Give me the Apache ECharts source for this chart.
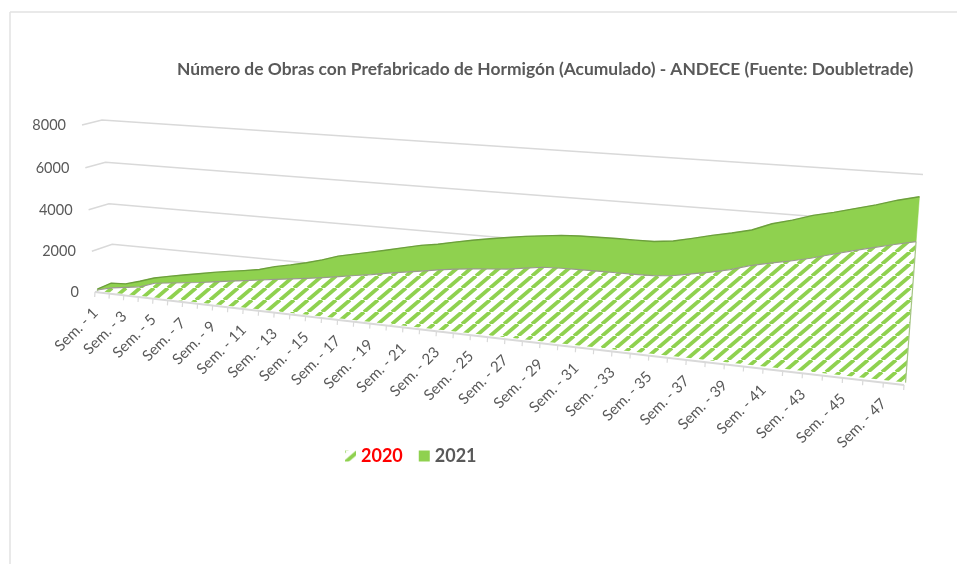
<!DOCTYPE html>
<html><head><meta charset="utf-8">
<style>html,body{margin:0;padding:0;background:#fff}#c{width:957px;height:564px}</style>
<script src="https://cdn.jsdelivr.net/npm/echarts@6/dist/echarts.min.js"></script>
</head><body><div id="c"></div>
<script>
var weeks = [];
for (var k = 1; k <= 48; k++) weeks.push('Sem. - ' + k);
var values2020 = [50,240,343,446,700,790,882,973,1081,1193,1296,1406,1512,1612,1716,1827,1952,2081,2203,2348,2469,2592,2717,2834,2917,2989,3061,3176,3294,3325,3340,3350,3360,3370,3390,3462,3616,3770,3954,4197,4370,4536,4723,4949,5173,5375,5570,5757];
var values2021 = [40,228,167,275,255,321,375,421,452,465,476,494,597,655,726,823,943,980,1021,1045,1102,1152,1152,1201,1268,1333,1384,1392,1365,1424,1452,1458,1464,1457,1453,1469,1496,1537,1523,1472,1623,1670,1741,1701,1695,1704,1759,1772];
var yTicks = [0,2000,4000,6000,8000];
var titleText = 'Número de Obras con Prefabricado de Hormigón (Acumulado) - ANDECE (Fuente: Doubletrade)';

var GREEN = '#8fd14f', TEXT = '#595959', GRID = '#d9d9d9', FONT = 'Lato, "Open Sans", sans-serif';

// hatch fill
function hatch() {
  var w = 14, h = 12, c = document.createElement('canvas');
  c.width = w; c.height = h;
  var g = c.getContext('2d');
  g.fillStyle = '#fff'; g.fillRect(0, 0, w, h);
  g.strokeStyle = GREEN; g.lineWidth = 3.8;
  [[-w, h, 0, 0], [0, h, w, 0], [w, h, 2 * w, 0]].forEach(function (s) {
    g.beginPath(); g.moveTo(s[0], s[1]); g.lineTo(s[2], s[3]); g.stroke();
  });
  return { image: c, repeat: 'repeat' };
}
var hatchFill = hatch();

// view projection of the 3D box: unit square (u along weeks, v up the value axis) -> screen quad
function quadMap(p00, p10, p11, p01) {
  var dx1 = p10[0] - p11[0], dx2 = p01[0] - p11[0], sx = p00[0] - p10[0] + p11[0] - p01[0];
  var dy1 = p10[1] - p11[1], dy2 = p01[1] - p11[1], sy = p00[1] - p10[1] + p11[1] - p01[1];
  var det = dx1 * dy2 - dx2 * dy1;
  var g = (sx * dy2 - dx2 * sy) / det, h = (dx1 * sy - sx * dy1) / det;
  var a = p10[0] - p00[0] + g * p10[0], b = p01[0] - p00[0] + h * p01[0], c = p00[0];
  var d = p10[1] - p00[1] + g * p10[1], e = p01[1] - p00[1] + h * p01[1], f = p00[1];
  return function (u, v) {
    var w = g * u + h * v + 1;
    return [(a * u + b * v + c) / w, (d * u + e * v + f) / w];
  };
}
var frontWall = quadMap([95, 292], [904, 385], [920, 186], [82, 125]);
var backWall = quadMap([115.5, 284], [898, 366], [923, 174.5], [102, 120]);
var seriesBack = quadMap([115.5, 284], [917, 365], [923, 174.5], [102, 120]);
var SERIES_DEPTH = 0.12;
function view(u, v, d) {
  var f = frontWall(u, v), b = backWall(u, v);
  return [f[0] + (b[0] - f[0]) * d, f[1] + (b[1] - f[1]) * d];
}
// series plane: front wall nudged towards the inner corners
function seriesView(u, v) {
  var f = frontWall(u, v), b = seriesBack(u, v);
  return [f[0] + (b[0] - f[0]) * SERIES_DEPTH, f[1] + (b[1] - f[1]) * SERIES_DEPTH];
}
// from the hidden cartesian scales to the box, then to the screen
function project(api, cs, cat, val, d) {
  var p = api.coord([cat, val]);
  return view((p[0] - cs.x) / cs.width, (cs.y + cs.height - p[1]) / cs.height, d);
}
function projectSeries(api, cs, cat, val) {
  var p = api.coord([cat, val]);
  return seriesView((p[0] - cs.x) / cs.width, (cs.y + cs.height - p[1]) / cs.height);
}

function renderWalls(params, api) {
  var cs = params.coordSys, val = api.value(0), last = weeks.length - 1;
  return {
    type: 'polyline',
    shape: { points: [project(api, cs, 0, val, 0), project(api, cs, 0, val, 1), project(api, cs, last, val, 1)] },
    style: { stroke: GRID, lineWidth: 1.5, fill: null }
  };
}
function renderYLabel(params, api) {
  var cs = params.coordSys, val = api.value(0), p = project(api, cs, 0, val, 0);
  return {
    type: 'text', x: p[0] - 16, y: p[1] + 0.5,
    style: { text: String(val), textAlign: 'right', textVerticalAlign: 'middle', fill: TEXT, font: '14.5px ' + FONT }
  };
}
function renderFloor(params, api) {
  var cs = params.coordSys, ch = [], last = weeks.length - 1;
  var a = project(api, cs, 0, 0, 0), b = project(api, cs, last, 0, 0);
  ch.push({ type: 'line', shape: { x1: a[0], y1: a[1], x2: b[0], y2: b[1] }, style: { stroke: GRID, lineWidth: 2 } });
  for (var i = 0; i <= last; i++) {
    var p = project(api, cs, i, 0, 0);
    ch.push({ type: 'line', shape: { x1: p[0], y1: p[1], x2: p[0] - 0.3, y2: p[1] + 5 }, style: { stroke: GRID, lineWidth: 1.2 } });
  }
  return { type: 'group', children: ch };
}
function renderXLabel(params, api) {
  var i = params.dataIndex;
  if (i % 2) return null;
  var p = project(api, params.coordSys, i, 0, 0);
  return {
    type: 'text', x: p[0] + 0.5, y: p[1] + 18.5, rotation: Math.PI / 4,
    style: { text: weeks[i], textAlign: 'right', textVerticalAlign: 'middle', fill: TEXT, font: '15px ' + FONT }
  };
}
function topPoints(api, cs, fn) {
  var pts = [];
  for (var i = 0; i < weeks.length; i++) pts.push(projectSeries(api, cs, i, fn(i)));
  return pts;
}
function render2020(params, api) {
  if (params.dataIndex !== 0) return null;
  var cs = params.coordSys, last = weeks.length - 1;
  var top = topPoints(api, cs, function (i) { return values2020[i]; });
  var br = projectSeries(api, cs, last, 0), bl = projectSeries(api, cs, 0, 0);
  return { type: 'group', children: [
    { type: 'polygon', shape: { points: top.concat([br, bl]) }, style: { fill: hatchFill } },
    { type: 'polyline', shape: { points: [top[last], br] }, style: { stroke: '#a5c585', lineWidth: 1.2, fill: null } },
    { type: 'polyline', shape: { points: top }, style: { stroke: '#9a9a8e', lineWidth: 1.2, fill: null } }
  ] };
}
function render2021(params, api) {
  if (params.dataIndex !== 0) return null;
  var cs = params.coordSys;
  var low = topPoints(api, cs, function (i) { return values2020[i]; });
  var high = topPoints(api, cs, function (i) { return values2020[i] + values2021[i]; });
  return { type: 'group', children: [
    { type: 'polygon', shape: { points: high.concat(low.slice().reverse()) }, style: { fill: GREEN, stroke: GREEN, lineWidth: 0.5 } },
    { type: 'polyline', shape: { points: high }, style: { stroke: '#6c9f3c', lineWidth: 1.4, fill: null } }
  ] };
}

var chart = echarts.init(document.getElementById('c'), null, { renderer: 'canvas' });
chart.setOption({
  animation: false,
  backgroundColor: '#fff',
  title: {
    text: titleText, left: 177, top: 61, padding: 0,
    textStyle: { color: TEXT, fontFamily: FONT, fontWeight: 'bold', fontSize: 17.4 }
  },
  legend: {
    left: 340, top: 442, itemWidth: 11, itemHeight: 11, itemGap: 16,
    selectedMode: false, icon: 'rect',
    data: [
      { name: '2020', itemStyle: { color: hatchFill }, textStyle: { color: '#ff0000', fontFamily: FONT, fontWeight: 'bold', fontSize: 18 } },
      { name: '2021', itemStyle: { color: GREEN }, textStyle: { color: TEXT, fontFamily: FONT, fontWeight: 'bold', fontSize: 18 } }
    ]
  },
  graphic: [
    { type: 'line', silent: true, shape: { x1: 10, y1: 12, x2: 957, y2: 12 }, style: { stroke: '#e2e2e2', lineWidth: 1.5 } },
    { type: 'line', silent: true, shape: { x1: 10, y1: 12, x2: 10, y2: 564 }, style: { stroke: '#e2e2e2', lineWidth: 1.5 } }
  ],
  grid: { left: 100, right: 100, top: 100, bottom: 100, show: false },
  xAxis: { type: 'category', data: weeks, boundaryGap: false, show: false },
  yAxis: { type: 'value', min: 0, max: 8000, interval: 2000, show: false },
  series: [
    { type: 'custom', name: 'walls', z: 1, silent: true, renderItem: renderWalls, data: yTicks.map(function (t) { return [t]; }), encode: { y: 0 }, clip: false },
    { type: 'custom', name: 'ylabels', z: 1, silent: true, renderItem: renderYLabel, data: yTicks.map(function (t) { return [t]; }), encode: { y: 0 }, clip: false },
    { type: 'custom', name: 'floor', z: 2, silent: true, renderItem: renderFloor, data: [[0]], clip: false },
    { type: 'custom', name: 'xlabels', z: 2, silent: true, renderItem: renderXLabel, data: weeks, clip: false },
    { type: 'custom', name: '2021', z: 4, silent: true, renderItem: render2021, data: values2021, clip: false, itemStyle: { color: GREEN } },
    { type: 'custom', name: '2020', z: 5, silent: true, renderItem: render2020, data: values2020, clip: false, itemStyle: { color: hatchFill } }
  ]
});
</script></body></html>
